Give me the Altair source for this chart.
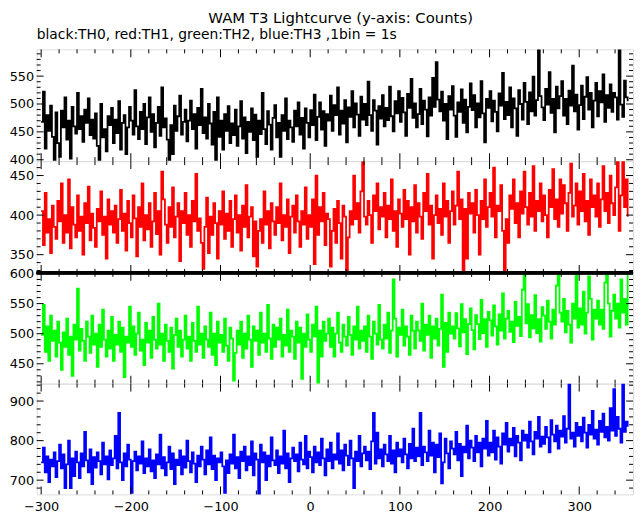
import altair as alt
import pandas as pd

# ---- data: counts per bin, bins every 2 s from -300 s ----
TIME_START = -300
TIME_END = 354
BIN_STEP = 2

TH0 = [
    468, 522, 420, 480, 452, 497, 441, 400, 485, 430,
    405, 488, 458, 512, 436, 470, 402, 495, 460, 447,
    520, 455, 478, 432, 490, 466, 510, 444, 472, 438,
    483, 425, 400, 500, 440, 455, 415, 478, 462, 493,
    430, 472, 448, 505, 418, 466, 480, 410, 458, 495,
    470, 445, 525, 460, 437, 486, 455, 500, 428, 476,
    512, 450, 482, 422, 466, 495, 443, 530, 458, 474,
    436, 400, 462, 410, 497, 452, 478, 515, 445, 468,
    490, 433, 470, 506, 455, 482, 420, 493, 462, 527,
    448, 476, 438, 500, 465, 427, 486, 400, 512, 441,
    470, 418, 482, 452, 496, 430, 465, 444, 490, 425,
    460, 505, 438, 476, 412, 468, 450, 492, 435, 481,
    405, 470, 446, 520, 455, 428, 487, 463, 418, 475,
    498, 440, 466, 405, 480, 452, 510, 437, 470, 458,
    432, 488, 460, 503, 445, 475, 420, 492, 466, 440,
    489, 462, 517, 435, 477, 503, 454, 487, 425, 482,
    470, 515, 452, 498, 480, 530, 445, 488, 465, 507,
    431, 494, 477, 523, 458, 501, 481, 443, 513, 472,
    500, 462, 540, 480, 452, 507, 488, 427, 496, 474,
    516, 460, 493, 471, 531, 478, 451, 505, 483, 523,
    468, 511, 485, 443, 518, 493, 545, 475, 501, 458,
    482, 527, 464, 506, 490, 442, 512, 479, 547, 495,
    575, 508, 487, 522, 470, 500, 437, 514, 490, 532,
    479, 441, 503, 486, 526, 466, 508, 449, 495, 537,
    489, 516, 458, 501, 476, 541, 483, 431, 509, 493,
    523, 469, 506, 486, 451, 519, 497, 556, 473, 504,
    480, 530, 458, 510, 492, 443, 525, 500, 472, 538,
    504, 464, 521, 487, 549, 479, 507, 600, 514, 494,
    471, 527, 499, 557, 484, 509, 449, 531, 492, 514,
    541, 479, 509, 464, 524, 497, 569, 487, 517, 454,
    498, 533, 473, 513, 548, 490, 520, 458, 506, 538,
    478, 523, 503, 553, 468, 516, 493, 535, 486, 520,
    512, 472, 600, 499, 477, 542, 512, 505,
]

TH1 = [
    405, 362, 428, 378, 395, 352, 412, 385, 370, 418,
    392, 440, 365, 400, 378, 445, 358, 410, 388, 372,
    425, 380, 398, 350, 415, 390, 436, 368, 402, 384,
    360, 408, 392, 430, 375, 398, 345, 420, 388, 405,
    378, 412, 365, 395, 432, 380, 402, 355, 418, 390,
    372, 425, 396, 348, 410, 385, 440, 368, 400, 382,
    415, 360, 392, 428, 376, 405, 350, 455, 420, 388,
    365, 410, 385, 435, 372, 398, 415, 342, 405, 390,
    428, 375, 400, 360, 418, 392, 452, 380, 396, 365,
    332, 385, 422, 352, 398, 375, 415, 390, 345, 405,
    388, 430, 370, 402, 380, 418, 360, 395, 425, 378,
    400, 355, 412, 385, 438, 372, 398, 410, 348, 392,
    335, 380, 395, 365, 430, 388, 405, 358, 415, 392,
    375, 410, 390, 440, 368, 400, 385, 420, 352, 398,
    412, 378, 425, 392, 360, 405, 388, 435, 370, 400,
    385, 420, 338, 450, 375, 410, 392, 428, 362, 402,
    395, 335, 380, 408, 365, 418, 390, 345, 412, 398,
    330, 372, 405, 388, 450, 395, 415, 378, 430, 470,
    398, 388, 418, 400, 365, 425, 405, 440, 382, 410,
    398, 428, 372, 412, 395, 445, 380, 405, 360, 420,
    402, 385, 432, 395, 418, 350, 410, 392, 438, 378,
    415, 398, 370, 428, 405, 452, 388, 412, 345, 400,
    425, 390, 408, 375, 440, 398, 418, 365, 405, 430,
    388, 412, 455, 395, 420, 330, 408, 345, 428, 402,
    415, 378, 432, 400, 350, 418, 395, 445, 385, 410,
    428, 398, 460, 372, 412, 405, 438, 380, 330, 395,
    365, 425, 408, 445, 390, 415, 372, 430, 402, 455,
    410, 388, 428, 398, 462, 380, 418, 405, 440, 392,
    425, 400, 372, 432, 410, 458, 395, 420, 385, 445,
    402, 438, 415, 380, 428, 465, 398, 412, 440, 388,
    430, 405, 452, 392, 418, 375, 445, 410, 425, 398,
    440, 385, 420, 462, 405, 428, 390, 450, 415, 400,
    435, 468, 380, 425, 470, 410, 445, 398,
]

TH2 = [
    498, 548, 470, 512, 455, 530, 488, 505, 462, 520,
    485, 440, 502, 478, 525, 465, 495, 430, 515, 490,
    575, 472, 508, 488, 455, 520, 495, 468, 530, 482,
    500, 445, 515, 478, 540, 490, 462, 505, 475, 528,
    455, 498, 482, 520, 470, 510, 428, 495, 485, 545,
    478, 512, 465, 500, 535, 472, 490, 448, 518, 485,
    505, 460, 528, 490, 475, 550, 482, 500, 455, 515,
    488, 470, 510, 442, 498, 525, 478, 505, 462, 490,
    530, 475, 495, 455, 518, 488, 470, 545, 482, 500,
    460, 512, 490, 478, 535, 465, 500, 448, 520, 485,
    498, 470, 525, 480, 455, 510, 492, 422, 468, 505,
    482, 520, 460, 500, 475, 530, 490, 445, 512, 488,
    505, 465, 535, 485, 500, 470, 548, 492, 458, 515,
    478, 510, 490, 525, 462, 498, 480, 540, 470, 505,
    495, 458, 520, 485, 510, 425, 500, 478, 532, 490,
    470, 515, 495, 545, 418, 505, 462, 520, 488, 500,
    525, 478, 510, 462, 500, 535, 485, 470, 515, 495,
    480, 528, 498, 465, 512, 490, 545, 475, 505, 488,
    512, 470, 530, 495, 458, 520, 500, 482, 548, 490,
    475, 515, 492, 535, 468, 505, 590, 525, 462, 510,
    498, 540, 480, 512, 495, 465, 530, 505, 475, 520,
    505, 488, 550, 472, 515, 498, 530, 460, 512, 492,
    525, 480, 508, 565, 445, 518, 470, 535, 500, 512,
    492, 534, 509, 479, 549, 502, 524, 466, 516, 542,
    506, 474, 531, 516, 491, 556, 501, 524, 478, 536,
    522, 497, 547, 512, 482, 532, 505, 567, 492, 525,
    538, 503, 520, 486, 553, 513, 528, 496, 573, 598,
    517, 549, 494, 531, 509, 564, 501, 524, 487, 544,
    530, 508, 555, 520, 492, 540, 515, 580, 598, 535,
    520, 558, 502, 538, 515, 485, 550, 525, 598, 510,
    542, 515, 570, 500, 535, 595, 558, 490, 540, 525,
    555, 515, 540, 508, 585, 600, 550, 495, 538, 565,
    525, 550, 510, 590, 535, 558, 515, 600,
]

TH3 = [
    745, 782, 720, 760, 695, 752, 735, 770, 708, 748,
    790, 730, 765, 680, 740, 800, 680, 755, 710, 772,
    745, 705, 768, 735, 822, 750, 720, 778, 690, 758,
    732, 770, 748, 715, 795, 740, 760, 702, 775, 738,
    755, 812, 730, 870, 745, 700, 768, 735, 790, 752,
    668, 748, 772, 725, 760, 742, 798, 718, 755, 735,
    778, 722, 750, 705, 765, 740, 815, 730, 758, 712,
    745, 785, 728, 768, 690, 752, 738, 775, 715, 760,
    732, 800, 748, 720, 770, 742, 695, 762, 735, 785,
    752, 715, 775, 740, 808, 728, 762, 700, 755, 745,
    770, 735, 668, 750, 718, 765, 742, 815, 730, 758,
    705, 772, 748, 785, 725, 760, 738, 798, 712, 768,
    752, 665, 790, 745, 770, 700, 762, 735, 808, 750,
    738, 775, 718, 760, 742, 825, 730, 768, 695, 755,
    782, 748, 765, 722, 795, 752, 740, 812, 730, 772,
    758, 720, 785, 745, 770, 738, 805, 755, 712, 778,
    748, 795, 730, 765, 752, 818, 742, 775, 725, 790,
    762, 738, 800, 755, 680, 772, 748, 812, 735, 768,
    785, 750, 772, 728, 798, 870, 742, 820, 755, 778,
    735, 790, 765, 748, 812, 742, 775, 720, 795, 760,
    778, 745, 805, 765, 730, 792, 755, 830, 748, 782,
    760, 870, 738, 785, 770, 748, 825, 762, 795, 720,
    790, 758, 818, 692, 745, 805, 768, 730, 798, 780,
    765, 822, 750, 792, 710, 785, 770, 838, 755, 800,
    782, 748, 812, 770, 795, 735, 805, 780, 850, 762,
    795, 770, 825, 752, 808, 785, 742, 818, 790, 845,
    772, 805, 788, 832, 760, 812, 795, 750, 825, 800,
    815, 782, 848, 798, 765, 822, 805, 860, 785, 810,
    792, 835, 808, 770, 852, 815, 798, 838, 780, 825,
    810, 862, 795, 830, 945, 805, 820, 785, 845, 812,
    835, 798, 858, 820, 782, 840, 815, 875, 805, 828,
    790, 850, 822, 868, 808, 835, 800, 882, 825, 930,
    812, 860, 830, 795, 945, 822, 848, 835,
]

TIMES = list(range(TIME_START, TIME_END + 1, BIN_STEP))

X_DOMAIN = [-305, 360]
X_MAJOR = [-300, -200, -100, 0, 100, 200, 300]
X_MINOR = [-280, -260, -240, -220, -180, -160, -140, -120, -80, -60, -40, -20,
           20, 40, 60, 80, 120, 140, 160, 180, 220, 240, 260, 280, 320, 340]

PANELS = [
    dict(vals=TH0, color="#000000", ydom=[397.5, 598], ymaj=[400, 450, 500, 550], ystep=10, h=113),
    dict(vals=TH1, color="#ff0000", ydom=[327, 468.2], ymaj=[350, 400, 450], ystep=10, h=113),
    dict(vals=TH2, color="#00ff00", ydom=[417, 601], ymaj=[450, 500, 550, 600], ystep=10, h=112),
    dict(vals=TH3, color="#0000ff", ydom=[664, 944], ymaj=[700, 800, 900], ystep=20, h=112),
]

W = 603
FONT = "DejaVu Sans"
MAJ = 7
MIN = 4


def make_panel(p, first, last):
    df = pd.DataFrame({"t": TIMES, "c": p["vals"]})
    lo, hi = p["ydom"]
    ymin = [v for v in range(int(lo) + 1, int(hi) + 1) if v % p["ystep"] == 0 and v not in p["ymaj"]]
    xscale = alt.Scale(domain=X_DOMAIN, nice=False, zero=False)
    yscale = alt.Scale(domain=p["ydom"], nice=False, zero=False)
    if last:
        xaxis = alt.Axis(values=X_MAJOR, ticks=False, domain=False, grid=False, title=None,
                         labelPadding=6, labelFont=FONT, labelFontSize=13, labelColor="black")
    else:
        xaxis = None
    yaxis = alt.Axis(values=p["ymaj"], ticks=False, domain=False, grid=False, title=None,
                     labelPadding=3, labelFont=FONT, labelFontSize=13, labelColor="black")
    X = alt.X("t:Q", scale=xscale, axis=xaxis)
    Y = alt.Y("c:Q", scale=yscale, axis=yaxis)

    line = alt.Chart(df).mark_line(
        color=p["color"], strokeWidth=1.8, interpolate="step-after", clip=True
    ).encode(x=X, y=Y)

    ymaj_df = pd.DataFrame({"c": p["ymaj"]})
    ymin_df = pd.DataFrame({"c": ymin})
    xmaj_df = pd.DataFrame({"t": X_MAJOR})
    xmin_df = pd.DataFrame({"t": X_MINOR})

    layers = [line]
    for d, L in ((ymaj_df, MAJ), (ymin_df, MIN)):
        layers.append(alt.Chart(d).mark_rule(color="black", strokeWidth=1).encode(
            y=Y, x=alt.value(0), x2=alt.value(L)))
        layers.append(alt.Chart(d).mark_rule(color="black", strokeWidth=1).encode(
            y=Y, x=alt.value(W - L), x2=alt.value(W)))
    for d, L in ((xmaj_df, MAJ + 1), (xmin_df, MIN)):
        layers.append(alt.Chart(d).mark_rule(color="black", strokeWidth=1).encode(
            x=X, y=alt.value(0), y2=alt.value(L)))
        layers.append(alt.Chart(d).mark_rule(color="black", strokeWidth=1).encode(
            x=X, y=alt.value(p["h"] - L), y2=alt.value(p["h"])))

    if p["color"] == "#00ff00":
        layers.append(alt.Chart(xmaj_df).mark_rule(color="black", strokeWidth=3).encode(
            x=alt.value(0), x2=alt.value(W), y=alt.value(0)))

    props = dict(width=W, height=p["h"])
    if first:
        props["title"] = alt.Title(
            "black:TH0, red:TH1, green:TH2, blue:TH3 ,1bin = 1s",
            anchor="start", frame="group", font=FONT, fontSize=14,
            fontWeight="normal", color="black", offset=7)
    return alt.layer(*layers).properties(**props)


panels = [make_panel(p, i == 0, i == len(PANELS) - 1) for i, p in enumerate(PANELS)]

chart = alt.vconcat(*panels, spacing=0, bounds="flush").properties(
    title=alt.Title("WAM T3 Lightcurve (y-axis: Counts)", anchor="middle",
                    font=FONT, fontSize=15, fontWeight="normal", color="black",
                    offset=2, dx=19),
    padding={"left": 0, "top": 0, "right": 0, "bottom": 0},
).configure_view(stroke="black", strokeWidth=1).configure(background="white")

chart.save("out.html", embed_options={"renderer": "svg", "actions": False})
